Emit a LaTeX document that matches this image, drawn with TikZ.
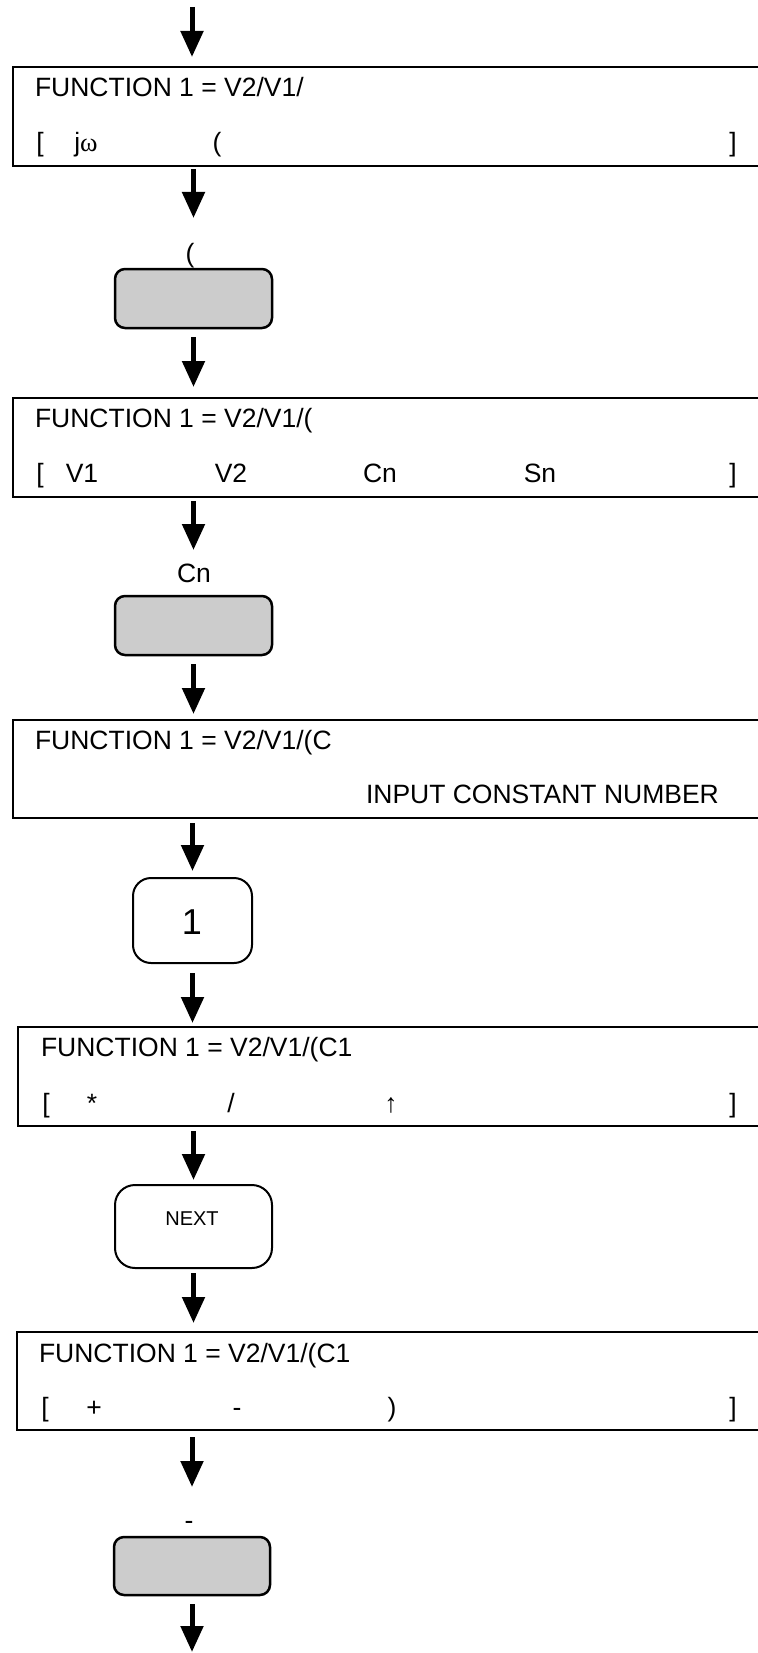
\documentclass[tikz,border=0pt]{standalone}
\usepackage{fontspec}
\setmainfont{Liberation Sans}
\newfontfamily\serifw{Liberation Serif}
\usetikzlibrary{arrows.meta}
\definecolor{keygray}{RGB}{204,204,204}
\tikzset{
  tbox/.style={draw, line width=2.5pt, minimum width=770pt, minimum height=99pt,
    anchor=north west, inner sep=0pt, outer sep=0pt},
  txt/.style={inner sep=0pt, outer sep=0pt, anchor=base west, font=\fontsize{26.5}{30}\selectfont},
  ctxt/.style={inner sep=0pt, outer sep=0pt, anchor=base, font=\fontsize{26.5}{30}\selectfont},
  gkey/.style={draw, fill=keygray, line width=2.5pt, rounded corners=10pt,
    minimum width=157pt, minimum height=59pt, inner sep=0pt, outer sep=0pt},
  wkey/.style={draw, fill=white, line width=2pt, inner sep=0pt, outer sep=0pt},
  arr/.style={line width=5pt, -{Triangle[width=22pt,length=26pt]}},
}
\begin{document}
\begin{tikzpicture}[x=1pt, y=-1pt]
\useasboundingbox (0,0) rectangle (757,1653);

% ---------- box 1 ----------
\node[tbox] (b1) at (13,67) {};
\node[txt] (b1a) at (35,97) {FUNCTION 1 = V2/V1/};
\node[ctxt] (b1b) at (40,152) {[};
\node[ctxt] (b1c) at (86,152) {j{\serifw ω}};
\node[ctxt] (b1d) at (217,152) {(};
\node[ctxt] (b1e) at (733,152) {]};

% ---------- gray key 1 ----------
\node[ctxt] (g1l) at (190,262) {(};
\node[gkey] (g1) at (193.5,298.5) {};

% ---------- box 2 ----------
\node[tbox] (b2) at (13,398) {};
\node[txt] (b2a) at (35,427) {FUNCTION 1 = V2/V1/(};
\node[ctxt] (b2b) at (40,482) {[};
\node[ctxt] (b2c) at (82,482) {V1};
\node[ctxt] (b2d) at (231,482) {V2};
\node[ctxt] (b2e) at (380,482) {Cn};
\node[ctxt] (b2f) at (540,482) {Sn};
\node[ctxt] (b2g) at (733,482) {]};

% ---------- gray key 2 ----------
\node[ctxt] (g2l) at (194,582) {Cn};
\node[gkey] (g2) at (193.5,625.5) {};

% ---------- box 3 ----------
\node[tbox, minimum height=98pt] (b3) at (13,720) {};
\node[txt] (b3a) at (35,749) {FUNCTION 1 = V2/V1/(C};
\node[txt] (b3b) at (366,803) {INPUT CONSTANT NUMBER};

% ---------- key "1" ----------
\node[wkey, rounded corners=18pt, minimum width=119pt, minimum height=85pt] (r1) at (192.5,920.5) {};
\node[inner sep=0pt, outer sep=0pt, anchor=base, font=\fontsize{36}{40}\selectfont] (r1t) at (192,934) {1};

% ---------- box 4 ----------
\node[tbox] (b4) at (18,1027) {};
\node[txt] (b4a) at (41,1056) {FUNCTION 1 = V2/V1/(C1};
\node[ctxt] (b4b) at (46,1112) {[};
\node[ctxt] (b4c) at (92,1112) {*};
\node[ctxt] (b4d) at (231,1112) {/};
\node[ctxt] (b4e) at (391,1112) {↑};
\node[ctxt] (b4f) at (733,1112) {]};

% ---------- key NEXT ----------
\node[wkey, rounded corners=20pt, minimum width=157pt, minimum height=83pt] (r2) at (193.5,1226.5) {};
\node[inner sep=0pt, outer sep=0pt, anchor=base, font=\fontsize{20}{24}\selectfont] (r2t) at (192,1225) {NEXT};

% ---------- box 5 ----------
\node[tbox, minimum height=98pt] (b5) at (17,1332) {};
\node[txt] (b5a) at (39,1362) {FUNCTION 1 = V2/V1/(C1};
\node[ctxt] (b5b) at (45,1416) {[};
\node[ctxt] (b5c) at (94,1416) {+};
\node[ctxt] (b5d) at (237,1416) {-};
\node[ctxt] (b5e) at (392,1416) {)};
\node[ctxt] (b5f) at (733,1416) {]};

% ---------- gray key 3 ----------
\node[ctxt] (g3l) at (189,1529) {-};
\node[gkey, minimum width=156pt, minimum height=58pt] (g3) at (192,1566) {};

% ---------- connectors ----------
\coordinate (top) at (192,7);
\coordinate (bot) at (192,1652);
\draw[arr, shorten >=10pt] (top) -- (top |- b1.north);
\draw[arr, shorten <=3pt, shorten >=51pt] (b1.south -| g1.north) -- (g1.north);
\draw[arr, shorten <=9pt, shorten >=11pt] (g1.south) -- (g1.south |- b2.north);
\draw[arr, shorten <=4pt, shorten >=46pt] (b2.south -| g2.north) -- (g2.north);
\draw[arr, shorten <=9pt, shorten >=6pt] (g2.south) -- (g2.south |- b3.north);
\draw[arr, shorten <=5pt, shorten >=7pt] (b3.south -| r1.north) -- (r1.north);
\draw[arr, shorten <=10pt, shorten >=4pt] (r1.south) -- (r1.south |- b4.north);
\draw[arr, shorten <=5pt, shorten >=5pt] (b4.south -| r2.north) -- (r2.north);
\draw[arr, shorten <=5pt, shorten >=9pt] (r2.south) -- (r2.south |- b5.north);
\draw[arr, shorten <=7pt, shorten >=50pt] (b5.south -| g3.north) -- (g3.north);
\draw[arr, shorten <=9pt] (g3.south) -- (bot);
\end{tikzpicture}
\end{document}
